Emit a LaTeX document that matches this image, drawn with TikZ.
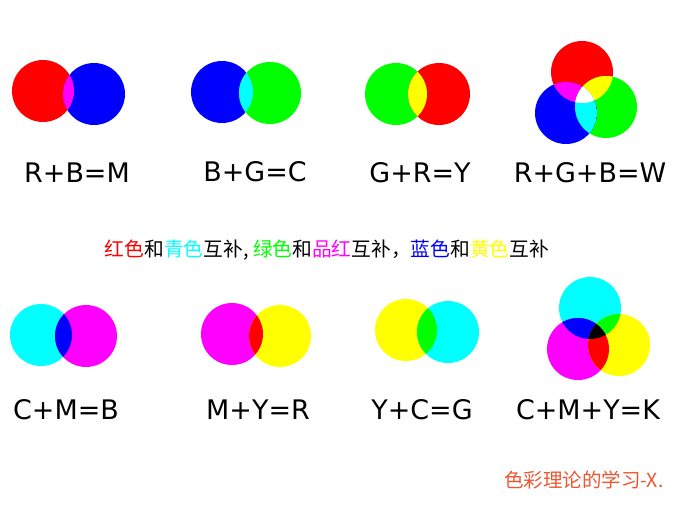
\documentclass[tikz,border=0pt]{standalone}
\usepackage{fontspec}
\setmainfont{DejaVu Sans}
\newfontfamily\cjk{Noto Sans CJK SC}
\usepackage{tikz}
\usetikzlibrary{positioning}
\usepackage{xcolor}
\definecolor{colR}{HTML}{FF0000}
\definecolor{colG}{HTML}{00FF00}
\definecolor{colB}{HTML}{0000FF}
\definecolor{colC}{HTML}{00FFFF}
\definecolor{colM}{HTML}{FF00FF}
\definecolor{colY}{HTML}{FFFF00}
\definecolor{colK}{HTML}{000000}
\definecolor{colW}{HTML}{FFFFFF}
\definecolor{signred}{HTML}{EE5533}

\newcommand{\rad}{31}
% two overlapping discs: name, centre a, colour a, centre b, colour b, mix
\newcommand{\mixpair}[6]{%
  \coordinate (#1a) at #2;
  \coordinate (#1b) at #4;
  \fill[#3] (#1a) circle[radius=\rad];
  \fill[#5] (#1b) circle[radius=\rad];
  \begin{scope}
    \clip (#1a) circle[radius=\rad];
    \fill[#6] (#1b) circle[radius=\rad];
  \end{scope}}

\tikzset{
  formula/.style={font=\fontsize{20.2}{24}\selectfont, text=black, inner sep=0pt},
  note/.style={font=\cjk\fontsize{14.8}{17}\selectfont, inner sep=0pt},
}

\begin{document}
\begin{tikzpicture}[x=0.75pt, y=-0.75pt]
  \useasboundingbox (0,0) rectangle (680,510);

  % additive row
  \mixpair{rb}{(43,91)}{colR}{(94,94)}{colB}{colM}
  \mixpair{bg}{(222,92)}{colB}{(270,93)}{colG}{colC}
  \mixpair{gr}{(396,94)}{colG}{(439,94)}{colR}{colY}

  \coordinate (rgbR) at (582,72);
  \coordinate (rgbG) at (606,107);
  \coordinate (rgbB) at (566,113);
  \fill[colR] (rgbR) circle[radius=\rad];
  \fill[colG] (rgbG) circle[radius=\rad];
  \fill[colB] (rgbB) circle[radius=\rad];
  \begin{scope}
    \clip (rgbR) circle[radius=\rad];
    \fill[colY] (rgbG) circle[radius=\rad];
    \fill[colM] (rgbB) circle[radius=\rad];
    \clip (rgbG) circle[radius=\rad];
    \fill[colW] (rgbB) circle[radius=\rad];
  \end{scope}
  \begin{scope}
    \clip (rgbG) circle[radius=\rad];
    \clip (rgbB) circle[radius=\rad];
    \fill[colC] (rgbB) circle[radius=\rad];
    \clip (rgbR) circle[radius=\rad];
    \fill[colW] (rgbB) circle[radius=\rad];
  \end{scope}

  \node[formula] (lrb) at (77,173) {R+B=M};
  \node[formula] (lbg) at (255,172) {B+G=C};
  \node[formula] (lgr) at (420,173) {G+R=Y};
  \node[formula] (lrgb) at (590,173) {R+G+B=W};

  % complementary pairs
  \node[note] (pairs) at (327,250) {\textcolor{colR}{红色}和\textcolor{colC}{青色}互补, \textcolor{colG}{绿色}和\textcolor{colM}{品红}互补，\textcolor{colB}{蓝色}和\textcolor{colY}{黄色}互补};

  % subtractive row
  \mixpair{cm}{(41,335)}{colC}{(86,336)}{colM}{colB}
  \mixpair{my}{(232,334)}{colM}{(280,336)}{colY}{colR}
  \mixpair{yc}{(406,330)}{colY}{(448,332)}{colC}{colG}

  \coordinate (cmyC) at (590,308);
  \coordinate (cmyM) at (578,349);
  \coordinate (cmyY) at (619,345);
  \fill[colC] (cmyC) circle[radius=\rad];
  \fill[colM] (cmyM) circle[radius=\rad];
  \fill[colY] (cmyY) circle[radius=\rad];
  \begin{scope}
    \clip (cmyC) circle[radius=\rad];
    \fill[colB] (cmyM) circle[radius=\rad];
    \fill[colG] (cmyY) circle[radius=\rad];
    \clip (cmyM) circle[radius=\rad];
    \fill[colK] (cmyY) circle[radius=\rad];
  \end{scope}
  \begin{scope}
    \clip (cmyM) circle[radius=\rad];
    \clip (cmyY) circle[radius=\rad];
    \fill[colR] (cmyY) circle[radius=\rad];
    \clip (cmyC) circle[radius=\rad];
    \fill[colK] (cmyY) circle[radius=\rad];
  \end{scope}

  \node[formula] (lcm) at (66,410) {C+M=B};
  \node[formula] (lmy) at (258,410) {M+Y=R};
  \node[formula] (lyc) at (422,410) {Y+C=G};
  \node[formula] (lcmy) at (588,410) {C+M+Y=K};

  \node[note, text=signred, font=\cjk\fontsize{14.6}{17}\selectfont] (sign) at (584,480) {色彩理论的学习-X.};
\end{tikzpicture}
\end{document}
